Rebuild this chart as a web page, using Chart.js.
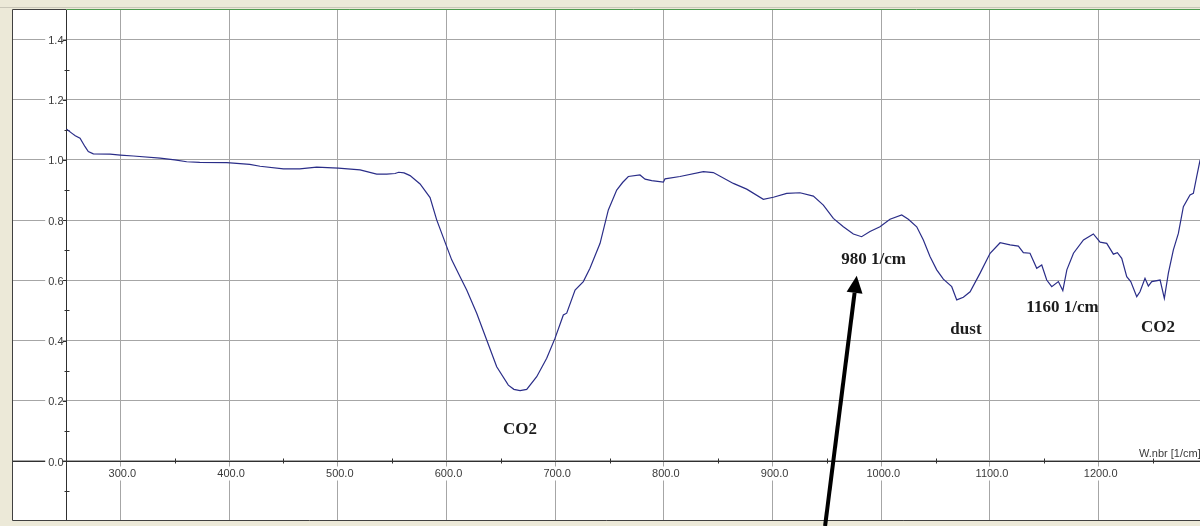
<!DOCTYPE html>
<html>
<head>
<meta charset="utf-8">
<script src="https://cdn.jsdelivr.net/npm/chart.js@4"></script>
<style>
  html, body { margin: 0; padding: 0; background: #ece9d8; overflow: hidden; }
  #wrap { width: 1200px; height: 526px; position: relative; }
  canvas { display: block; }
</style>
</head>
<body>
<div id="wrap"><canvas id="spec" width="1200" height="526"></canvas></div>
<script>
// Spectrum: wavenumber [1/cm] and measured signal
const wavenumber = [
  250.6, 255.2, 258.5, 262.9, 267.5, 270.5, 275.1, 290.5, 300, 311.9,
  336.5, 350, 361, 373, 398, 419, 428.5, 450, 465, 480.6,
  500.5, 520.5, 535.8, 545, 552.7, 556, 561, 566.5, 575.7, 584.9,
  591, 600.2, 604.8, 612.5, 618.6, 627.8, 637, 646.2, 656.9, 662,
  667.7, 673.8, 683, 692.2, 699.9, 707.5, 710.6, 718.3, 725.9, 732,
  741.3, 748.9, 756.6, 762, 767.3, 778, 782.7, 788.8, 799.5, 801,
  814.8, 836.3, 845.5, 863.9, 876.2, 891.5, 900.7, 913, 925.2, 937.5,
  946.7, 955.9, 965.1, 974.3, 981.9, 989.6, 998.8, 1008, 1018.8, 1024.9,
  1032.6, 1038.7, 1044.8, 1051, 1057.1, 1064.8, 1069.4, 1075.5, 1081.7, 1090.9,
  1100.1, 1109.3, 1118.5, 1126.1, 1130.7, 1136.8, 1143, 1147.6, 1152.2, 1156.8,
  1162.9, 1167, 1170.7, 1176.8, 1186, 1195.1, 1201.3, 1207.4, 1213.5, 1217.2,
  1221.2, 1225.8, 1229.5, 1235, 1238, 1242.6, 1245.7, 1248.8, 1256.5, 1260.4,
  1264.1, 1268.7, 1273.3, 1277.9, 1284, 1287.1, 1290.2, 1293.3, 1296
];
const signal = [
  1.102, 1.089, 1.080, 1.072, 1.044, 1.028, 1.020, 1.019, 1.016, 1.013,
  1.006, 1.000, 0.994, 0.992, 0.991, 0.985, 0.979, 0.970, 0.970, 0.976,
  0.973, 0.967, 0.953, 0.953, 0.955, 0.959, 0.957, 0.948, 0.920, 0.875,
  0.801, 0.712, 0.668, 0.612, 0.568, 0.491, 0.402, 0.313, 0.252, 0.238,
  0.234, 0.238, 0.280, 0.341, 0.408, 0.485, 0.491, 0.568, 0.596, 0.640,
  0.723, 0.834, 0.900, 0.925, 0.945, 0.950, 0.936, 0.931, 0.926, 0.937,
  0.945, 0.961, 0.958, 0.922, 0.903, 0.869, 0.876, 0.889, 0.891, 0.880,
  0.850, 0.806, 0.778, 0.754, 0.745, 0.762, 0.778, 0.803, 0.817, 0.803,
  0.778, 0.734, 0.679, 0.635, 0.604, 0.579, 0.535, 0.544, 0.562, 0.624,
  0.690, 0.725, 0.718, 0.714, 0.692, 0.690, 0.640, 0.651, 0.601, 0.579,
  0.596, 0.566, 0.635, 0.690, 0.734, 0.754, 0.727, 0.723, 0.687, 0.692,
  0.673, 0.612, 0.596, 0.546, 0.562, 0.607, 0.581, 0.596, 0.601, 0.540,
  0.624, 0.701, 0.756, 0.845, 0.884, 0.889, 0.945, 1.000, 1.060
];

// Axis ticks
const xTickValues = [300, 400, 500, 600, 700, 800, 900, 1000, 1100, 1200];
const xTickLabels = ['300.0', '400.0', '500.0', '600.0', '700.0', '800.0', '900.0', '1000.0', '1100.0', '1200.0'];
const xMinorTicks = [350, 450, 550, 650, 750, 850, 950, 1050, 1150, 1250];
const yTickValues = [0, 0.2, 0.4, 0.6, 0.8, 1.0, 1.2, 1.4];
const yTickLabels = ['0.0', '0.2', '0.4', '0.6', '0.8', '1.0', '1.2', '1.4'];
const yMinorTicks = [-0.1, 0.1, 0.3, 0.5, 0.7, 0.9, 1.1, 1.3];
const xAxisTitle = 'W.nbr [1/cm]';

// Band labels (text, wavenumber, signal at text baseline)
const bandText = ['CO2', '980 1/cm', 'dust', '1160 1/cm', 'CO2'];
const bandX = [667.7, 992.9, 1077.9, 1166.7, 1254.6];
const bandY = [0.090, 0.654, 0.422, 0.496, 0.429];

// Pointer arrow (tail -> tip) in data units
const arrowFrom = { x: 948.3, y: -0.216 };
const arrowTo = { x: 977.4, y: 0.615 };

const X_ORIGIN = 250;   // where the vertical axis crosses
const Y_ORIGIN = 0;     // where the horizontal axis crosses

const frame = {
  id: 'frame',
  beforeDraw(chart) {
    const { ctx, chartArea: a } = chart;
    ctx.save();
    ctx.fillStyle = '#ffffff';
    ctx.fillRect(a.left, a.top, a.right - a.left, a.bottom - a.top);
    ctx.restore();
  },
  beforeDatasetsDraw(chart) {
    const { ctx, chartArea: a, scales: { x, y } } = chart;
    const ax = Math.round(x.getPixelForValue(X_ORIGIN)) + 0.5;
    const ay = Math.round(y.getPixelForValue(Y_ORIGIN)) + 0.5;
    ctx.save();
    ctx.strokeStyle = '#303030';
    ctx.lineWidth = 1;
    // axis lines
    ctx.beginPath();
    ctx.moveTo(ax, a.top); ctx.lineTo(ax, a.bottom);
    ctx.moveTo(a.left, ay); ctx.lineTo(a.right, ay);
    ctx.stroke();
    // minor ticks
    ctx.beginPath();
    yMinorTicks.forEach(v => {
      const py = Math.round(y.getPixelForValue(v)) + 0.5;
      ctx.moveTo(ax - 2, py); ctx.lineTo(ax + 3, py);
    });
    xMinorTicks.forEach(v => {
      const px = Math.round(x.getPixelForValue(v)) + 0.5;
      ctx.moveTo(px, ay - 3); ctx.lineTo(px, ay + 2);
    });
    // major ticks
    yTickValues.forEach(v => {
      const py = Math.round(y.getPixelForValue(v)) + 0.5;
      ctx.moveTo(ax - 4, py); ctx.lineTo(ax, py);
    });
    ctx.stroke();

    // tick labels
    ctx.font = '11px "Liberation Sans", Arial, sans-serif';
    ctx.fillStyle = '#3a3a3a';
    ctx.textAlign = 'right';
    ctx.textBaseline = 'middle';
    yTickValues.forEach((v, i) => {
      const py = y.getPixelForValue(v);
      const w = ctx.measureText(yTickLabels[i]).width;
      ctx.fillStyle = '#ffffff';
      ctx.fillRect(ax - 4 - w - 2, py - 6, w + 2, 13);
      ctx.fillStyle = '#3a3a3a';
      ctx.fillText(yTickLabels[i], ax - 3, py + 1.5);
    });
    ctx.textAlign = 'center';
    ctx.textBaseline = 'top';
    xTickValues.forEach((v, i) => {
      const px = x.getPixelForValue(v) + 2;
      const w = ctx.measureText(xTickLabels[i]).width;
      ctx.fillStyle = '#ffffff';
      ctx.fillRect(px - w / 2 - 1, ay + 5, w + 2, 14);
      ctx.fillStyle = '#3a3a3a';
      ctx.fillText(xTickLabels[i], px, ay + 7);
    });
    // axis title at the right end
    ctx.textAlign = 'left';
    ctx.textBaseline = 'alphabetic';
    ctx.fillText(xAxisTitle, a.right - 61, ay - 5);
    ctx.restore();
  },
  afterDraw(chart) {
    const { ctx, chartArea: a, scales: { x, y } } = chart;
    const ax = Math.round(x.getPixelForValue(X_ORIGIN)) + 0.5;
    ctx.save();
    // window frame lines
    ctx.lineWidth = 1;
    ctx.strokeStyle = '#c9c6b8';
    ctx.beginPath();
    ctx.moveTo(0, 7.5); ctx.lineTo(a.right, 7.5);
    ctx.stroke();
    ctx.strokeStyle = '#404040';
    ctx.beginPath();
    ctx.moveTo(a.left + 0.5, a.top - 0.5); ctx.lineTo(ax, a.top - 0.5);
    ctx.moveTo(a.left + 0.5, a.top - 0.5); ctx.lineTo(a.left + 0.5, a.bottom + 0.5);
    ctx.lineTo(a.right, a.bottom + 0.5);
    ctx.stroke();
    ctx.strokeStyle = '#4f9a4f';
    ctx.beginPath();
    ctx.moveTo(ax, a.top - 0.5); ctx.lineTo(a.right, a.top - 0.5);
    ctx.stroke();

    // band labels
    ctx.font = 'bold 17px "Liberation Serif", "Times New Roman", serif';
    ctx.fillStyle = '#1c1c1c';
    ctx.textAlign = 'center';
    ctx.textBaseline = 'alphabetic';
    bandText.forEach((t, i) => {
      ctx.fillText(t, x.getPixelForValue(bandX[i]), y.getPixelForValue(bandY[i]));
    });

    // pointer arrow
    const x0 = x.getPixelForValue(arrowFrom.x), y0 = y.getPixelForValue(arrowFrom.y);
    const x1 = x.getPixelForValue(arrowTo.x), y1 = y.getPixelForValue(arrowTo.y);
    const ang = Math.atan2(y1 - y0, x1 - x0);
    const headLen = 17, headHalf = 8;
    const bx = x1 - headLen * Math.cos(ang), by = y1 - headLen * Math.sin(ang);
    ctx.strokeStyle = '#000000';
    ctx.fillStyle = '#000000';
    ctx.lineWidth = 4;
    ctx.beginPath();
    ctx.moveTo(x0, y0); ctx.lineTo(bx, by);
    ctx.stroke();
    ctx.beginPath();
    ctx.moveTo(x1, y1);
    ctx.lineTo(bx + headHalf * Math.sin(ang), by - headHalf * Math.cos(ang));
    ctx.lineTo(bx - headHalf * Math.sin(ang), by + headHalf * Math.cos(ang));
    ctx.closePath();
    ctx.fill();
    ctx.restore();
  }
};

new Chart(document.getElementById('spec'), {
  type: 'scatter',
  data: {
    datasets: [{
      data: wavenumber.map((w, i) => ({ x: w, y: signal[i] })),
      showLine: true,
      borderColor: '#2a2d88',
      borderWidth: 1.2,
      pointRadius: 0,
      pointHoverRadius: 0,
      tension: 0,
      fill: false
    }]
  },
  options: {
    responsive: false,
    animation: false,
    devicePixelRatio: 1,
    events: [],
    layout: { padding: { left: 12, top: 10, right: 0, bottom: 6 } },
    plugins: { legend: { display: false }, tooltip: { enabled: false } },
    scales: {
      x: {
        type: 'linear',
        min: 200.3,
        max: 1293.2,
        afterBuildTicks: s => { s.ticks = xTickValues.map(v => ({ value: v })); },
        ticks: { display: false },
        grid: { color: '#a6a6a6', lineWidth: 1, drawTicks: false },
        border: { display: false }
      },
      y: {
        type: 'linear',
        min: -0.196,
        max: 1.498,
        afterBuildTicks: s => { s.ticks = yTickValues.map(v => ({ value: v })); },
        ticks: { display: false },
        grid: { color: '#a6a6a6', lineWidth: 1, drawTicks: false },
        border: { display: false }
      }
    }
  },
  plugins: [frame]
});
</script>
</body>
</html>
